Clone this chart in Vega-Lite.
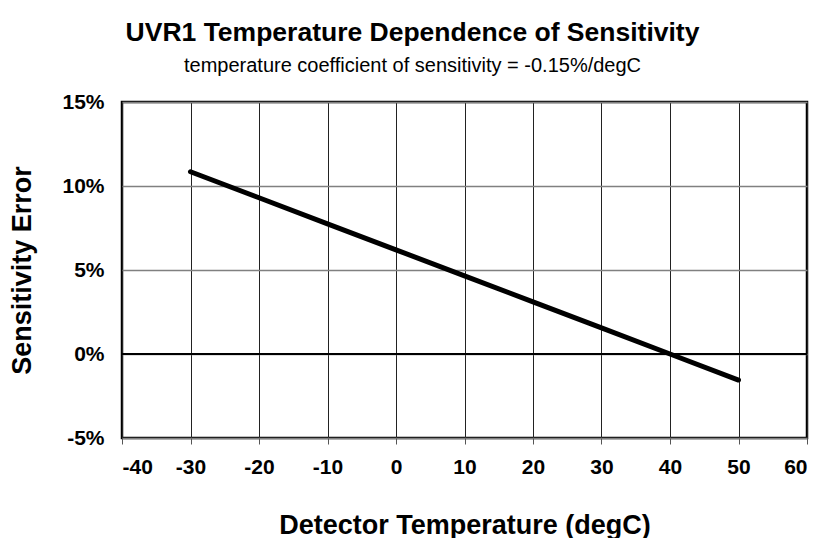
{
  "$schema": "https://vega.github.io/schema/vega-lite/v6.json",
  "width": 685,
  "height": 336,
  "autosize": "none",
  "padding": {"left": 122, "top": 102, "right": 16, "bottom": 100},
  "background": "white",
  "title": {
    "text": "UVR1 Temperature Dependence of Sensitivity",
    "subtitle": "temperature coefficient of sensitivity = -0.15%/degC",
    "font": "Liberation Sans",
    "fontSize": 26.5,
    "fontWeight": "bold",
    "color": "black",
    "subtitleFont": "Liberation Sans",
    "subtitleFontSize": 20,
    "subtitleColor": "black",
    "subtitlePadding": 10,
    "anchor": "middle",
    "dx": -52,
    "offset": 15
  },
  "config": {
    "view": {"stroke": "black", "strokeWidth": 2.5},
    "axis": {
      "labelFont": "Liberation Sans",
      "labelFontSize": 21,
      "labelFontWeight": "bold",
      "labelColor": "black",
      "titleFont": "Liberation Sans",
      "titleFontSize": 27,
      "titleFontWeight": "bold",
      "titleColor": "black",
      "domain": false
    }
  },
  "data": {
    "values": [
      {"temp": -30, "err": 0.1085},
      {"temp": -20, "err": 0.093},
      {"temp": -10, "err": 0.0775},
      {"temp": 0, "err": 0.062},
      {"temp": 10, "err": 0.0465},
      {"temp": 20, "err": 0.031},
      {"temp": 30, "err": 0.0155},
      {"temp": 40, "err": 0.0},
      {"temp": 50, "err": -0.0155}
    ]
  },
  "layer": [
    {
      "mark": {"type": "rule", "color": "black", "strokeWidth": 1},
      "encoding": {"y": {"datum": 0, "type": "quantitative"}}
    },
    {
      "mark": {"type": "line", "color": "black", "strokeWidth": 5, "strokeCap": "round"},
      "encoding": {
        "x": {
          "field": "temp",
          "type": "quantitative",
          "scale": {"domain": [-40, 60], "nice": false, "zero": false},
          "axis": {
            "title": "Detector Temperature (degC)",
            "values": [-40, -30, -20, -10, 0, 10, 20, 30, 40, 50, 60],
            "labelExpr": "replace(datum.label, '\u2212', '-')",
            "grid": true,
            "gridColor": "#222222",
            "gridWidth": 1,
            "gridOpacity": 1,
            "ticks": true,
            "tickSize": 6,
            "tickColor": "#555555",
            "tickWidth": 1,
            "labelPadding": 12,
            "titleBaseline": "middle",
            "titleY": 87
          }
        },
        "y": {
          "field": "err",
          "type": "quantitative",
          "scale": {"domain": [-0.05, 0.15], "nice": false, "zero": false},
          "axis": {
            "title": "Sensitivity Error",
            "values": [-0.05, 0, 0.05, 0.1, 0.15],
            "format": ".0%",
            "labelExpr": "replace(datum.label, '\u2212', '-')",
            "grid": true,
            "gridColor": "#808080",
            "gridWidth": 1.5,
            "gridOpacity": 1,
            "ticks": false,
            "labelPadding": 18,
            "titleAngle": -90,
            "titleBaseline": "middle",
            "titleX": -100,
            "titleY": 168
          }
        }
      }
    }
  ]
}
